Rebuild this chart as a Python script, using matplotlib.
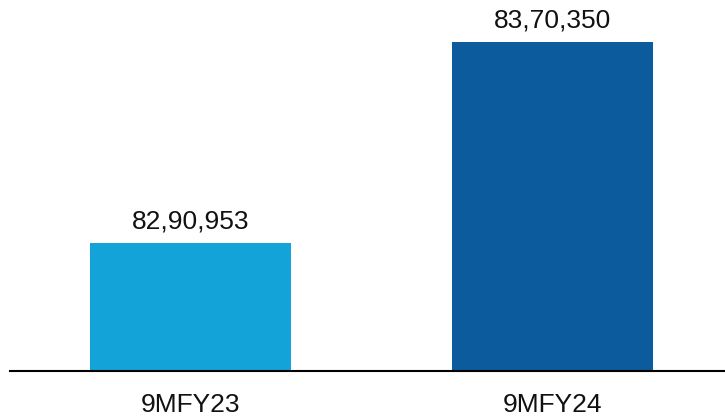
import matplotlib.pyplot as plt

periodos = ["9MFY23", "9MFY24"]
valores = [8290953, 8370350]
etiquetas = ["82,90,953", "83,70,350"]
colores = ["#13A3D8", "#0B5B9D"]

plt.rcParams['font.family'] = ['Liberation Sans', 'DejaVu Sans']

fig = plt.figure(figsize=(7.25, 4.17), dpi=100)
ax = fig.add_axes([10 / 725, 46 / 417, 715 / 725, 371 / 417])

x = range(len(periodos))
barras = ax.bar(x, valores, width=0.555, color=colores)

for barra, texto in zip(barras, etiquetas):
    ax.annotate(texto, (barra.get_x() + barra.get_width() / 2, barra.get_height()),
                xytext=(0, 7), textcoords='offset points',
                ha='center', va='bottom', fontsize=19, color='#111111')

ax.set_ylim(8240400, 8386900)
ax.set_xlim(-0.4986, 1.4765)
ax.set_xticks(list(x))
ax.set_xticklabels(periodos, fontsize=19, color='#111111')
ax.tick_params(axis='x', length=0, pad=16)
ax.set_yticks([])

for lado in ['top', 'right', 'left']:
    ax.spines[lado].set_visible(False)
ax.spines['bottom'].set_linewidth(1.5)
ax.spines['bottom'].set_color('black')

fig.savefig("out.png", dpi=100)
